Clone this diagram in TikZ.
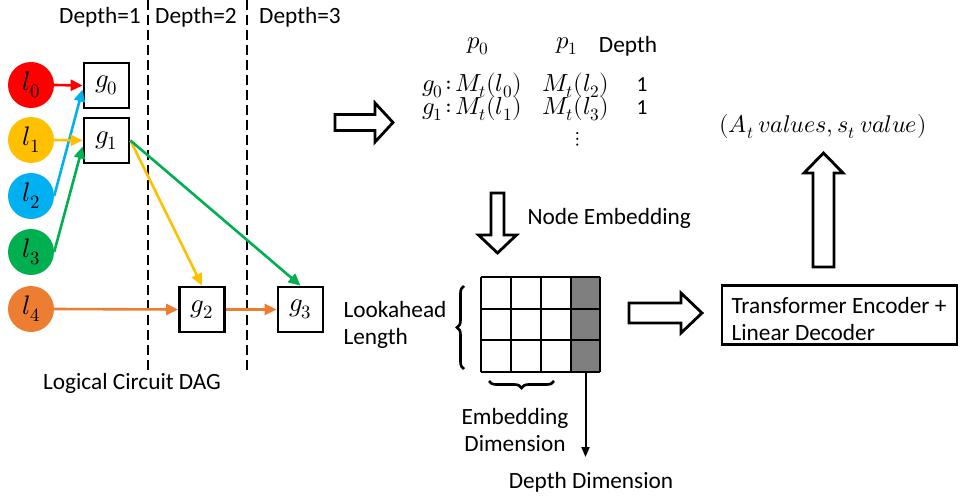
\documentclass[tikz,border=0pt]{standalone}
\usepackage{fontspec}
\usepackage{unicode-math}
\setmainfont{Carlito}
\setmathfont{Latin Modern Math}[Scale=1.15]
\usetikzlibrary{arrows.meta,decorations.pathreplacing,calc}
\definecolor{cred}{HTML}{FF0000}
\definecolor{cyel}{HTML}{FFC000}
\definecolor{cblue}{HTML}{00B0F0}
\definecolor{cgreen}{HTML}{00B050}
\definecolor{corange}{HTML}{ED7D31}
\definecolor{cgray}{HTML}{7F7F7F}
\begin{document}
\begin{tikzpicture}[x=1pt,y=-1pt,
  every node/.style={font=\fontsize{23.3}{27}\selectfont},
  leaf/.style={circle, minimum size=46pt, inner sep=0pt, fill=#1},
  gate/.style={draw, line width=2.8pt, minimum size=45pt, inner sep=0pt},
  edge/.style={line width=2.6pt, draw=#1, -{Triangle[length=12pt,width=11pt]}},
  bigarrow/.style={draw, line width=2.8pt, fill=white, line join=miter},
  sep/.style={line width=2.8pt, dash pattern=on 10pt off 5pt},
  brace/.style={decorate, decoration={brace, amplitude=7pt}, line width=2.6pt},
  cell/.style={draw, line width=1.2pt},
  tab/.style={font=\fontsize{21.5}{24}\selectfont, inner sep=0pt}
]
\useasboundingbox (0,0) rectangle (960,497);

% depth separators and labels
\draw[sep] (148,0) -- (148,372);
\draw[sep] (247,0) -- (247,372);
\node (d1) at (100,17) {Depth=1};
\node (d2) at (196,17) {Depth=2};
\node (d3) at (300,17) {Depth=3};

% leaves
\node[leaf=cred] (l0) at (31,85) {$l_0$};
\node[leaf=cyel] (l1) at (31,140) {$l_1$};
\node[leaf=cblue] (l2) at (31,196) {$l_2$};
\node[leaf=cgreen] (l3) at (31,252) {$l_3$};
\node[leaf=corange] (l4) at (31,309) {$l_4$};

% gates
\node[gate] (g0) at (106.5,85.5) {$g_0$};
\node[gate] (g1) at (106.5,140.5) {$g_1$};
\node[gate] (g2) at (202,309.5) {$g_2$};
\node[gate] (g3) at (300.5,309.5) {$g_3$};

\draw[edge=cred] (l0.east) -- (g0.west);
\draw[edge=cblue] (l2.east) -- ($(g0.west)+(0,4)$);
\draw[edge=cyel] (l1.east) -- (g1.west);
\draw[edge=cgreen] (l3.east) -- ($(g1.west)+(0,6)$);
\draw[edge=cyel] (g1.east) -- (g2.north);
\draw[edge=cgreen] (g1.east) -- (g3.north);
\draw[edge=corange] (l4.east) -- (g2.west);
\draw[edge=corange] (g2.east) -- (g3.west);

\node (dag) at (132,383) {Logical Circuit DAG};

% arrow to table
\draw[bigarrow] (335,114.5) -- (375,114.5) -- (375,103) -- (393,122.5) -- (375,142) -- (375,130.5) -- (335,130.5) -- cycle;

% table
\node[tab] (p0) at (478,46) {$p_0$};
\node[tab] (p1) at (567,46) {$p_1$};
\node (dh) at (628,46) {Depth};
\node[tab] (r1a) at (472,85) {$g_0\!:\!M_t(l_0)$};
\node[tab] (r1b) at (576,85) {$M_t(l_2)$};
\node[tab] (r1c) at (642,85) {1};
\node[tab] (r2a) at (472,108) {$g_1\!:\!M_t(l_1)$};
\node[tab] (r2b) at (576,108) {$M_t(l_3)$};
\node[tab] (r2c) at (642,108) {1};
\node[font=\fontsize{18}{20}\selectfont, inner sep=0pt] (dots) at (578,139) {$\vdots$};

% down arrow
\draw[bigarrow] (491,193) -- (504,193) -- (504,235) -- (516.5,235) -- (497.5,253) -- (478.5,235) -- (491,235) -- cycle;
\node[anchor=west] (ne) at (524,218) {Node Embedding};

% grid
\fill[cgray] (571,277) rectangle (600,372);
\foreach \x in {481,511,541,571,600} \draw[cell] (\x,277) -- (\x,372);
\foreach \y in {277,309,340,372} \draw[cell] (481,\y) -- (600,\y);
\coordinate (gridtop) at (585.5,372);
\coordinate (depthend) at (585.5,457);
\draw[line width=2pt, -{Triangle[length=10pt,width=8pt]}] (gridtop) -- (depthend);
\node (dd) at (591,482) {Depth Dimension};

\draw[brace] (464,369) -- (464,286);
\node[anchor=west, align=left] (la) at (340,325) {Lookahead\\Length};
\draw[brace] (554,381) -- (489,381);
\node[align=center] (ed) at (515,430) {Embedding\\Dimension};

% arrow to transformer
\draw[bigarrow] (629,303) -- (681,303) -- (681,293) -- (702,313) -- (681,333) -- (681,323) -- (629,323) -- cycle;

% transformer
\node[draw, line width=2.8pt, minimum width=235pt, minimum height=59pt, inner sep=0pt] (tr) at (839.5,315) {};
\node[anchor=west, align=left] (trt) at (728,319) {Transformer Encoder +\\Linear Decoder};

% up arrow
\draw[bigarrow] (813,267) -- (834,267) -- (834,173) -- (843,173) -- (823.5,153) -- (804,173) -- (813,173) -- cycle;
\node[font=\fontsize{21}{25}\selectfont] (out) at (823,127) {$(A_t\ values, s_t\ value)$};
\end{tikzpicture}
\end{document}
